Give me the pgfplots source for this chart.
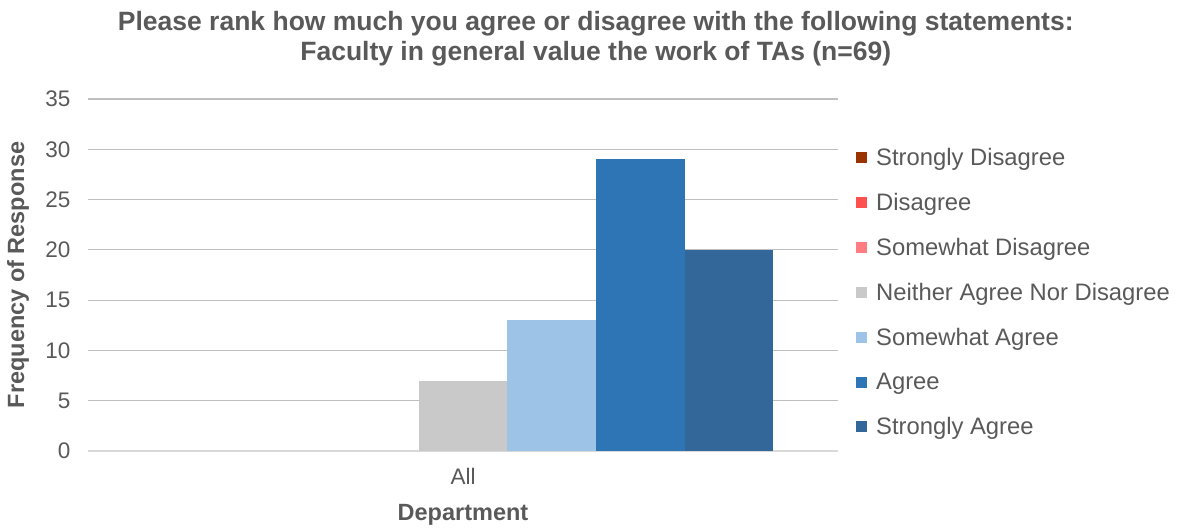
\documentclass[border=0pt]{standalone}
\usepackage{pgfplots}
\pgfplotsset{compat=1.18}
\usepackage{fontspec}
\setmainfont{Liberation Sans}
\definecolor{txt}{HTML}{595959}
\definecolor{grid}{HTML}{D9D9D9}
\definecolor{cSD}{HTML}{993300}
\definecolor{cD}{HTML}{FF5050}
\definecolor{cSwD}{HTML}{FF7C80}
\definecolor{cN}{HTML}{C9C9C9}
\definecolor{cSwA}{HTML}{9DC3E6}
\definecolor{cA}{HTML}{2E75B6}
\definecolor{cSA}{HTML}{336699}
\begin{document}
\begin{tikzpicture}[x=1pt,y=1pt]
\path[use as bounding box] (0,0) rectangle (1177,529);
\begin{axis}[
  at={(88pt,78pt)}, anchor=south west,
  scale only axis, width=750pt, height=352pt,
  ybar=0pt, bar width=88.6pt,
  xmin=-0.5, xmax=0.5, ymin=0, ymax=35,
  xtick={0}, xticklabels={All},
  ytick={0,5,...,35},
  /pgf/number format/assume math mode=true,
  ymajorgrids, xmajorgrids=false,
  major grid style={grid, line width=1.2pt},
  axis x line*=bottom, axis y line*=left,
  x axis line style={grid, line width=1.2pt, -},
  y axis line style={draw=none},
  xtick style={draw=none}, ytick style={draw=none},
  major tick length=0pt,
  tick label style={font=\fontsize{22.5}{26}\selectfont, text=txt},
  yticklabel style={xshift=-14pt},
  xticklabel style={yshift=-14pt},
  xlabel={Department}, ylabel={Frequency of Response},
  label style={font=\fontsize{23.5}{28}\selectfont\bfseries, text=txt},
  xlabel style={at={(axis description cs:0.5,-0.182)}, anchor=center},
  ylabel style={at={(axis description cs:-0.0933,0.5)}, anchor=center},
  title={Please rank how much you agree or disagree with the following statements:\\Faculty in general value the work of TAs (n=69)},
  title style={at={(axis description cs:0.677,1.153)}, anchor=center, align=center,
    font=\fontsize{26.5}{30}\selectfont\bfseries, text=txt},
  legend style={at={(axis description cs:1.024,0.451)}, anchor=west, draw=none, fill=none,
    font=\fontsize{23.8}{28}\selectfont, text=txt, row sep=22.2pt, inner sep=0pt,
    /tikz/every even column/.append style={column sep=0pt}},
  legend cell align=left,
  legend image code/.code={\fill[#1] (0pt,-5.5pt) rectangle (11pt,5.5pt); \path (18pt,0pt);},
  every axis plot/.append style={draw=none},
]
\addplot[fill=none, legend image code/.code={\fill[cSD] (0pt,-5.5pt) rectangle (11pt,5.5pt); \path (18pt,0pt);}] coordinates {(0,0)};
\addplot[fill=none, legend image code/.code={\fill[cD] (0pt,-5.5pt) rectangle (11pt,5.5pt); \path (18pt,0pt);}] coordinates {(0,0)};
\addplot[fill=none, legend image code/.code={\fill[cSwD] (0pt,-5.5pt) rectangle (11pt,5.5pt); \path (18pt,0pt);}] coordinates {(0,0)};
\addplot[fill=cN] coordinates {(0,7)};
\addplot[fill=cSwA] coordinates {(0,13)};
\addplot[fill=cA] coordinates {(0,29)};
\addplot[fill=cSA] coordinates {(0,20)};
\legend{Strongly Disagree,Disagree,Somewhat Disagree,Neither Agree Nor Disagree,Somewhat Agree,Agree,Strongly Agree}
\end{axis}
\end{tikzpicture}
\end{document}
